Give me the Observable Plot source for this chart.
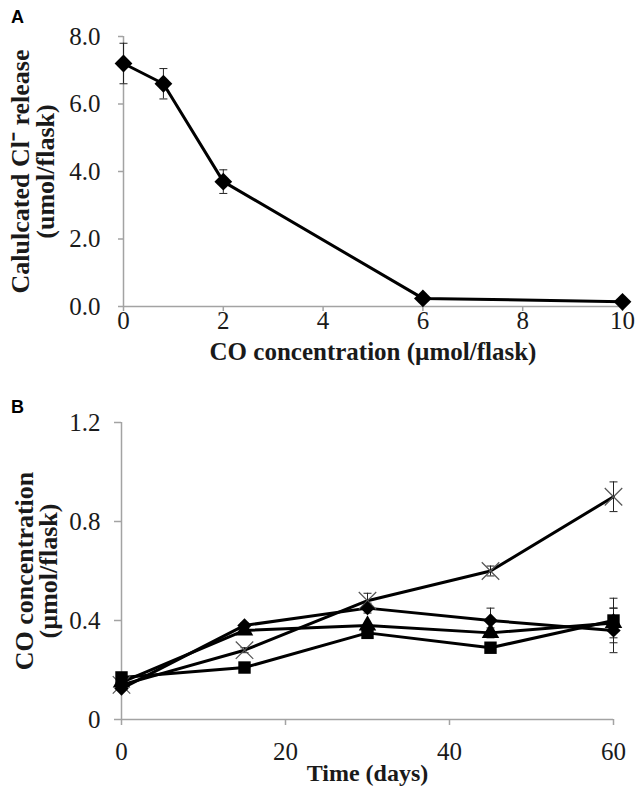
<!DOCTYPE html>
<html>
<head>
<meta charset="utf-8">
<script src="https://cdn.jsdelivr.net/npm/d3@7"></script>
<script src="https://cdn.jsdelivr.net/npm/@observablehq/plot@0.6"></script>
<style>
  html, body { margin: 0; padding: 0; background: #fff; }
  #chart { width: 638px; }
  #chart svg { display: block; }
</style>
</head>
<body>
<div id="chart"></div>
<script>
// ---------- Panel A data ----------
const aConc = [0, 0.8, 2, 6, 10];
const aRelease = [7.2, 6.6, 3.7, 0.24, 0.14];
const aErr = [0.6, 0.45, 0.35, 0.03, 0.02];
const aXTicks = [0, 2, 4, 6, 8, 10];
const aYTicks = [0, 2, 4, 6, 8];

// ---------- Panel B data ----------
const bDays = [0, 15, 30, 45, 60];
const bSeries = ["diamond", "square", "triangle", "times"];
const bDiamond = [0.125, 0.38, 0.45, 0.40, 0.36];
const bDiamondErr = [0.0, 0.01, 0.02, 0.05, 0.09];
const bSquare = [0.17, 0.21, 0.35, 0.29, 0.40];
const bSquareErr = [0.0, 0.0, 0.02, 0.0, 0.09];
const bTriangle = [0.15, 0.36, 0.38, 0.35, 0.39];
const bTriangleErr = [0.0, 0.0, 0.0, 0.02, 0.06];
const bTimes = [0.14, 0.28, 0.48, 0.60, 0.90];
const bTimesErr = [0.0, 0.01, 0.03, 0.02, 0.06];
const bXTicks = [0, 20, 40, 60];
const bYTicks = [0, 0.4, 0.8, 1.2];

const AXIS_GRAY = "#a3a3a3";
const TEXT = "#1a1a1a";
const SERIF = "'Liberation Serif', 'Times New Roman', serif";
const SANS = "'Liberation Sans', Arial, sans-serif";

// error-bar cap as a custom symbol
const cap = { draw(ctx, size) { const w = 4; ctx.moveTo(-w, 0); ctx.lineTo(w, 0); } };

// ---------- Panel A ----------
const tableA = aConc.map((x, i) => ({ x, y: aRelease[i], lo: aRelease[i] - aErr[i], hi: aRelease[i] + aErr[i] }));

const plotA = Plot.plot({
  width: 638,
  height: 372,
  marginLeft: 123,
  marginRight: 16,
  marginTop: 36,
  marginBottom: 66,
  style: { fontFamily: SERIF, fontSize: "25px", color: TEXT, background: "white" },
  x: { domain: [0, 10] },
  y: { domain: [0, 8] },
  marks: [
    Plot.ruleX([0], { stroke: AXIS_GRAY, strokeWidth: 1.5 }),
    Plot.ruleY([0], { stroke: AXIS_GRAY, strokeWidth: 1.5 }),
    Plot.axisX(aXTicks, { tickSize: 5, tickPadding: 0, stroke: AXIS_GRAY, strokeWidth: 1.5, fill: TEXT, label: null, fontSize: 25 }),
    Plot.axisY(aYTicks, { tickSize: 5, tickPadding: 18, stroke: AXIS_GRAY, strokeWidth: 1.5, fill: TEXT, label: null, tickFormat: d3.format(".1f"), fontSize: 25 }),
    Plot.ruleX(tableA, { x: "x", y1: "lo", y2: "hi", stroke: "#222", strokeWidth: 1 }),
    Plot.dot(tableA, { x: "x", y: "lo", symbol: cap, stroke: "#222", strokeWidth: 1, r: 4 }),
    Plot.dot(tableA, { x: "x", y: "hi", symbol: cap, stroke: "#222", strokeWidth: 1, r: 4 }),
    Plot.line(tableA, { x: "x", y: "y", stroke: "black", strokeWidth: 3 }),
    Plot.dot(tableA, { x: "x", y: "y", symbol: "diamond2", fill: "black", stroke: "none", r: 8 }),
    Plot.text(["Calulcated Cl\u207B release\n(umol/flask)"], {
      frameAnchor: "left", textAnchor: "middle", lineAnchor: "middle", dx: -90, rotate: -90, lineHeight: 0.96,
      fontFamily: SERIF, fontWeight: "bold", fontSize: 26, fill: TEXT
    }),
    Plot.text(["CO concentration (\u00B5mol/flask)"], {
      frameAnchor: "bottom", textAnchor: "middle", lineAnchor: "middle", dy: 45,
      fontFamily: SERIF, fontWeight: "bold", fontSize: 25, fill: TEXT
    }),
    Plot.text(["A"], {
      frameAnchor: "top-left", textAnchor: "middle", lineAnchor: "middle", dx: -106, dy: -19,
      fontFamily: SANS, fontWeight: "bold", fontSize: 18, fill: "black"
    })
  ]
});

// ---------- Panel B ----------
const bValues = [bDiamond, bSquare, bTriangle, bTimes];
const bErrs = [bDiamondErr, bSquareErr, bTriangleErr, bTimesErr];
const tableB = [];
bSeries.forEach((s, k) => {
  bDays.forEach((d, i) => {
    tableB.push({ series: s, x: d, y: bValues[k][i], lo: bValues[k][i] - bErrs[k][i], hi: bValues[k][i] + bErrs[k][i], err: bErrs[k][i] });
  });
});
const withErr = tableB.filter(d => d.err > 0);
const only = s => tableB.filter(d => d.series === s);

const plotB = Plot.plot({
  width: 638,
  height: 420,
  marginLeft: 121,
  marginRight: 25,
  marginTop: 50,
  marginBottom: 73,
  style: { fontFamily: SERIF, fontSize: "25px", color: TEXT, background: "white" },
  x: { domain: [0, 60] },
  y: { domain: [0, 1.2] },
  marks: [
    Plot.ruleX([0], { stroke: AXIS_GRAY, strokeWidth: 1.5 }),
    Plot.ruleY([0], { stroke: AXIS_GRAY, strokeWidth: 1.5 }),
    Plot.axisX(bXTicks, { tickSize: 6, tickPadding: 17, stroke: AXIS_GRAY, strokeWidth: 1.5, fill: TEXT, label: null, fontSize: 25 }),
    Plot.axisY(bYTicks, { tickSize: 7, tickPadding: 14, stroke: AXIS_GRAY, strokeWidth: 1.5, fill: TEXT, label: null, tickFormat: d => d === 0 ? "0" : d3.format(".1f")(d), fontSize: 25 }),
    Plot.ruleX(withErr, { x: "x", y1: "lo", y2: "hi", stroke: "#222", strokeWidth: 1 }),
    Plot.dot(withErr, { x: "x", y: "lo", symbol: cap, stroke: "#222", strokeWidth: 1, r: 4 }),
    Plot.dot(withErr, { x: "x", y: "hi", symbol: cap, stroke: "#222", strokeWidth: 1, r: 4 }),
    Plot.line(tableB, { x: "x", y: "y", z: "series", stroke: "black", strokeWidth: 3 }),
    Plot.dot(only("times"), { x: "x", y: "y", symbol: "times", stroke: "#555", strokeWidth: 1.2, r: 8 }),
    Plot.dot(only("triangle"), { x: "x", y: "y", symbol: "triangle", fill: "black", stroke: "none", r: 6.5 }),
    Plot.dot(only("square"), { x: "x", y: "y", symbol: "square", fill: "black", stroke: "none", r: 7 }),
    Plot.dot(only("diamond"), { x: "x", y: "y", symbol: "diamond2", fill: "black", stroke: "none", r: 6.5 }),
    Plot.text(["CO concentration\n(\u00B5mol/flask)"], {
      frameAnchor: "left", textAnchor: "middle", lineAnchor: "middle", dx: -84, rotate: -90, lineHeight: 0.9,
      fontFamily: SERIF, fontWeight: "bold", fontSize: 26, fill: TEXT
    }),
    Plot.text(["Time (days)"], {
      frameAnchor: "bottom", textAnchor: "middle", lineAnchor: "middle", dy: 54,
      fontFamily: SERIF, fontWeight: "bold", fontSize: 24, fill: TEXT
    }),
    Plot.text(["B"], {
      frameAnchor: "top-left", textAnchor: "middle", lineAnchor: "middle", dx: -104, dy: -15,
      fontFamily: SANS, fontWeight: "bold", fontSize: 18, fill: "black"
    })
  ]
});

document.getElementById("chart").append(plotA, plotB);
</script>
</body>
</html>
